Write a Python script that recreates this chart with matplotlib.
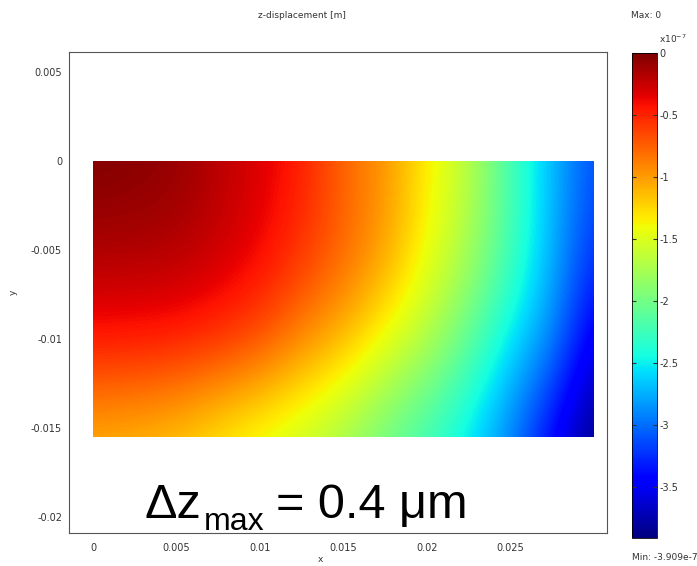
import numpy as np
import matplotlib
matplotlib.use("Agg")
import matplotlib.pyplot as plt
from matplotlib.patches import Rectangle

# Sample positions on the plate [m]
x_pos = [0.0, 0.0025, 0.005, 0.0075, 0.01, 0.0125, 0.015, 0.0175,
         0.02, 0.0225, 0.025, 0.0275, 0.03]
y_pos = [0.0, -0.005167, -0.010333, -0.0155]

# z-displacement at those positions, in units of 1e-7 m
w_row_0 = [0.0, -0.03, -0.07, -0.20, -0.32, -0.47, -0.78, -0.97,
           -1.33, -1.65, -2.22, -2.70, -3.13]
w_row_1 = [-0.15, -0.15, -0.17, -0.24, -0.36, -0.55, -0.75, -1.00,
           -1.40, -1.72, -2.20, -2.72, -3.24]
w_row_2 = [-0.45, -0.46, -0.48, -0.56, -0.68, -0.93, -1.14, -1.45,
           -1.70, -2.10, -2.55, -2.87, -3.58]
w_row_3 = [-1.12, -1.15, -1.22, -1.36, -1.50, -1.62, -1.80, -2.05,
           -2.28, -2.56, -2.93, -3.48, -3.909]

w_max = 0.0
w_min = -3.909
cbar_ticks = [0, -0.5, -1, -1.5, -2, -2.5, -3, -3.5]
cbar_labels = ["0", "-0.5", "-1", "-1.5", "-2", "-2.5", "-3", "-3.5"]
x_ticks = [0, 0.005, 0.01, 0.015, 0.02, 0.025]
x_tick_labels = ["0", "0.005", "0.01", "0.015", "0.02", "0.025"]
y_ticks = [0.005, 0, -0.005, -0.01, -0.015, -0.02]
y_tick_labels = ["0.005", "0", "-0.005", "-0.01", "-0.015", "-0.02"]

W, H = 697, 566
fig = plt.figure(figsize=(W / 100, H / 100), dpi=100)
fig.patch.set_facecolor("white")

def fx(px):
    return px / W

def fy(py):
    return (H - py) / H

ax = fig.add_axes([fx(69), fy(533), fx(607) - fx(69), fy(52) - fy(533)])

xs = np.array(x_pos)
ys = np.array(y_pos)
Z = np.array([w_row_0, w_row_1, w_row_2, w_row_3])
dx = xs[1] - xs[0]
dy = ys[0] - ys[1]
img = ax.imshow(Z, cmap="jet", vmin=w_min, vmax=w_max,
                interpolation="bicubic", origin="upper", aspect="auto",
                extent=[xs[0] - dx / 2, xs[-1] + dx / 2,
                        ys[-1] - dy / 2, ys[0] + dy / 2])
plate = Rectangle((xs[0], ys[-1]), xs[-1] - xs[0], ys[0] - ys[-1],
                  transform=ax.transData, facecolor="none", edgecolor="none")
ax.add_patch(plate)
img.set_clip_path(plate)

ax.set_xlim(-0.00144, 0.03078)
ax.set_ylim(-0.0209, 0.0061)
ax.set_xticks(x_ticks)
ax.set_xticklabels(x_tick_labels)
ax.set_yticks(y_ticks)
ax.set_yticklabels(y_tick_labels)
ax.tick_params(axis="both", length=0, labelsize=7, colors="#333333")
ax.tick_params(axis="x", pad=7)
ax.tick_params(axis="y", pad=5)
for s in ax.spines.values():
    s.set_color("#555555")
    s.set_linewidth(0.8)

# colour bar
cax = fig.add_axes([fx(632), fy(538), fx(657) - fx(632), fy(53) - fy(538)])
cb = fig.colorbar(img, cax=cax, ticks=cbar_ticks)
cb.ax.set_yticklabels(cbar_labels)
cb.ax.tick_params(direction="in", left=True, right=True, length=3,
                  width=0.8, labelsize=7, pad=1.5, colors="#333333")
cb.outline.set_linewidth(0.6)

# texts
fig.text(fx(302), fy(16), "z-displacement [m]", ha="center", va="center",
         fontsize=6.5, color="#333333")
fig.text(fx(631), fy(16), "Max: 0", ha="left", va="center",
         fontsize=6.5, color="#333333")
fig.text(fx(659), fy(39), r"x10$^{-7}$", ha="left", va="center",
         fontsize=6.5, color="#333333")
fig.text(fx(632), fy(558), "Min: -3.909e-7", ha="left", va="center",
         fontsize=6.5, color="#333333")
fig.text(fx(13), fy(292), "y", ha="center", va="center", rotation=90,
         fontsize=6.5, color="#333333")
fig.text(fx(320), fy(559), "x", ha="center", va="center",
         fontsize=6.5, color="#333333")

big = dict(family="Liberation Sans", color="black", va="baseline", ha="left")
fig.text(fx(145), fy(518), "\u0394z", fontsize=35, **big)
fig.text(fx(204), fy(530), "max", fontsize=23, **big)
fig.text(fx(276), fy(518), "= 0.4 \u03bcm", fontsize=35, **big)

fig.savefig("out.png", dpi=100, facecolor="white")
